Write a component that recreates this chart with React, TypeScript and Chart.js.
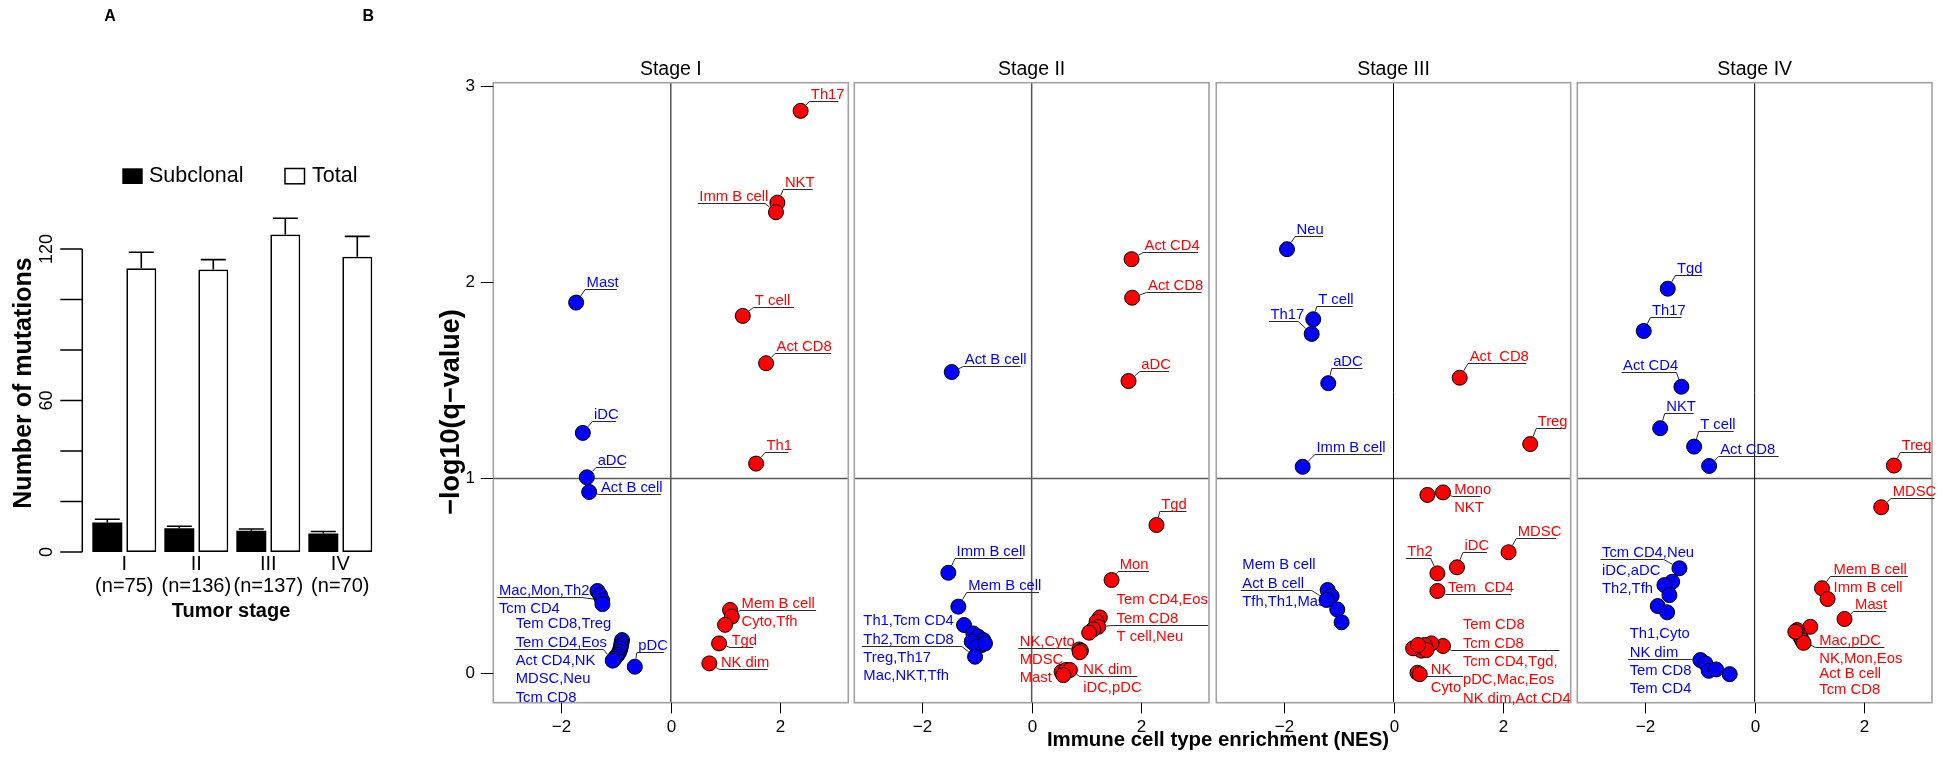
import { useEffect, useRef } from 'react';
import { Chart, registerables } from 'chart.js';

Chart.register(...registerables);

const W = 1952;
const H = 757;
const SANS = '"Liberation Sans", Arial, Helvetica, sans-serif';
const RED = '#FF0000';
const BLUE = '#0000FF';

// ---------------- Panel A data ----------------
const stageNames = ['I', 'II', 'III', 'IV'];
const stageCounts = ['(n=75)', '(n=136)', '(n=137)', '(n=70)'];
const subclonalMean = [11.7, 9.4, 8.4, 7.3];
const subclonalUpper = [13.0, 10.2, 9.1, 8.1];
const totalMean = [112.4, 111.9, 125.7, 116.9];
const totalUpper = [118.7, 115.8, 132.2, 125.0];
const mutationTicks = [0, 20, 40, 60, 80, 100, 120];
const mutationTickLabels = ['0', '', '', '60', '', '', '120'];

// ---------------- Panel B data ----------------
const nesTicks = [-2, 0, 2];
const nesTickLabels = ['\u22122', '0', '2'];
const qTicks = [0, 1, 2, 3];
const qTickLabels = ['0', '1', '2', '3'];

const stage1Cells = ['Th17', 'NKT', 'Imm B cell', 'T cell', 'Act CD8', 'Th1', 'Mem B cell', 'Cyto', 'Tfh', 'Tgd', 'NK dim',
  'Mast', 'iDC', 'aDC', 'Act B cell', 'Mac', 'Mon', 'Th2', 'Tcm CD4', 'Tem CD8', 'Treg', 'Tem CD4', 'Eos', 'Act CD4', 'NK', 'MDSC', 'Neu', 'Tcm CD8', 'pDC'];
const stage1NES = [2.37, 1.945, 1.92, 1.314, 1.739, 1.557, 1.082, 1.113, 0.99, 0.881, 0.704,
  -1.728, -1.606, -1.533, -1.49, -1.339, -1.29, -1.253, -1.248, -0.89, -0.90, -0.91, -0.92, -0.94, -0.97, -1.0, -1.03, -1.06, -0.657];
const stage1LogQ = [2.875, 2.406, 2.357, 1.827, 1.585, 1.072, 0.324, 0.29, 0.248, 0.153, 0.051,
  1.895, 1.229, 1.002, 0.927, 0.421, 0.4, 0.374, 0.354, 0.17, 0.155, 0.14, 0.125, 0.11, 0.095, 0.085, 0.075, 0.065, 0.034];

const stage2Cells = ['Act CD4', 'Act CD8', 'aDC', 'Tgd', 'Mon', 'Tem CD4', 'Eos', 'Tem CD8', 'T cell', 'Neu', 'NK', 'Cyto', 'MDSC', 'Mast', 'NK dim', 'iDC', 'pDC',
  'Act B cell', 'Imm B cell', 'Mem B cell', 'Th1', 'Tcm CD4', 'Th2', 'Tcm CD8', 'Treg', 'Th17', 'Mac', 'NKT', 'Tfh'];
const stage2NES = [1.825, 1.836, 1.77, 2.281, 1.46, 1.246, 1.186, 1.215, 1.124, 1.051, 0.87, 0.9, 0.88, 0.547, 0.626, 0.699, 0.577,
  -1.46, -1.522, -1.339, -1.235, -1.065, -0.974, -0.883, -1.095, -0.912, -1.004, -1.034, -0.852];
const stage2LogQ = [2.117, 1.92, 1.494, 0.758, 0.477, 0.286, 0.264, 0.238, 0.225, 0.208, 0.122, 0.116, 0.108, 0.008, 0.017, 0.017, -0.009,
  1.54, 0.514, 0.341, 0.247, 0.204, 0.187, 0.17, 0.162, 0.145, 0.136, 0.085, 0.153];

const stage3Cells = ['Neu', 'T cell', 'Th17', 'aDC', 'Imm B cell', 'Mem B cell', 'Act B cell', 'Tfh', 'Th1', 'Mast',
  'Act CD8', 'Treg', 'Mono', 'NKT', 'MDSC', 'iDC', 'Th2', 'Tem CD4', 'Tem CD8', 'Tcm CD8', 'Tcm CD4', 'Tgd', 'pDC', 'Mac', 'Eos', 'NK dim', 'Act CD4', 'NK', 'Cyto'];
const stage3NES = [-1.947, -1.467, -1.496, -1.193, -1.661, -1.204, -1.131, -1.223, -1.029, -0.949,
  1.21, 2.5, 0.62, 0.905, 2.104, 1.161, 0.803, 0.803, 0.905, 0.693, 0.571, 0.48, 0.42, 0.511, 0.602, 0.358, 0.449, 0.438, 0.48];
const stage3LogQ = [2.168, 1.81, 1.735, 1.483, 1.056, 0.426, 0.395, 0.375, 0.327, 0.261,
  1.511, 1.172, 0.912, 0.925, 0.619, 0.542, 0.511, 0.421, 0.14, 0.153, 0.145, 0.136, 0.128, 0.116, 0.119, 0.128, 0.145, 0.003, -0.004];

const stage4Cells = ['Tgd', 'Th17', 'Act CD4', 'NKT', 'T cell', 'Act CD8', 'Tcm CD4', 'Neu', 'iDC', 'aDC', 'Th2', 'Tfh', 'Th1', 'Cyto', 'NK dim', 'Tem CD8', 'Tem CD4',
  'Treg', 'MDSC', 'Mem B cell', 'Imm B cell', 'Mast', 'Mac', 'pDC', 'NK', 'Mon', 'Eos', 'Act B cell', 'Tcm CD8'];
const stage4NES = [-1.588, -2.026, -1.338, -1.726, -1.106, -0.832, -1.374, -1.507, -1.648, -1.557, -1.77, -1.599, -0.991, -0.9, -0.839, -0.704, -0.456,
  2.544, 2.312, 1.23, 1.332, 1.642, 1.016, 0.774, 0.803, 0.834, 0.865, 0.894, 0.743];
const stage4LogQ = [1.966, 1.75, 1.465, 1.253, 1.159, 1.06, 0.537, 0.468, 0.451, 0.4, 0.344, 0.312, 0.068, 0.051, 0.013, 0.02, -0.004,
  1.062, 0.849, 0.435, 0.38, 0.278, 0.238, 0.221, 0.204, 0.187, 0.17, 0.156, 0.213];

// Callout labels (anchor of the underline in data units, target = index of point)
type Callout = { lines: string[]; above: number; x0: number; x1: number; y: number; target: number; tx?: number; ls?: number };

const stage1Callouts: Callout[] = [
  { lines: ['Th17'], above: 1, x0: 2.529, x1: 3.058, y: 2.927, target: 0 },
  { lines: ['NKT'], above: 1, x0: 2.055, x1: 2.591, y: 2.474, target: 1 },
  { lines: ['Imm B cell'], above: 1, x0: 0.493, x1: 1.721, y: 2.403, target: 2 },
  { lines: ['T cell'], above: 1, x0: 1.507, x1: 2.25, y: 1.871, target: 3 },
  { lines: ['Act CD8'], above: 1, x0: 1.903, x1: 2.925, y: 1.639, target: 4 },
  { lines: ['Th1'], above: 1, x0: 1.721, x1: 2.146, y: 1.133, target: 5 },
  { lines: ['Mast'], above: 1, x0: -1.564, x1: -0.985, y: 1.963, target: 11 },
  { lines: ['iDC'], above: 1, x0: -1.431, x1: -0.998, y: 1.291, target: 12 },
  { lines: ['aDC'], above: 1, x0: -1.363, x1: -0.828, y: 1.053, target: 13 },
  { lines: ['Act B cell'], above: 1, x0: -1.303, x1: -0.182, y: 0.917, target: 14 },
  { lines: ['Mac,Mon,Th2', 'Tcm CD4'], above: 1, x0: -3.164, x1: -1.624, y: 0.392, target: 17 },
  { lines: ['Tem CD8,Treg', 'Tem CD4,Eos', 'Act CD4,NK', 'MDSC,Neu', 'Tcm CD8'], above: 2, x0: -2.859, x1: -1.23, y: 0.124, target: 27 },
  { lines: ['pDC'], above: 1, x0: -0.62, x1: -0.122, y: 0.11, target: 28 },
  { lines: ['Mem B cell', 'Cyto,Tfh'], above: 1, x0: 1.265, x1: 2.652, y: 0.324, target: 7 },
  { lines: ['Tgd'], above: 1, x0: 1.082, x1: 1.507, y: 0.136, target: 9 },
  { lines: ['NK dim'], above: 1, x0: 0.887, x1: 1.77, y: 0.02, target: 10 },
];

const stage2Callouts: Callout[] = [
  { lines: ['Act CD4'], above: 1, x0: 2.036, x1: 3.04, y: 2.155, target: 0 },
  { lines: ['Act CD8'], above: 1, x0: 2.099, x1: 3.102, y: 1.951, target: 1 },
  { lines: ['aDC'], above: 1, x0: 1.976, x1: 2.511, y: 1.547, target: 2 },
  { lines: ['Tgd'], above: 1, x0: 2.341, x1: 2.828, y: 0.831, target: 3 },
  { lines: ['Mon'], above: 1, x0: 1.58, x1: 2.141, y: 0.525, target: 4 },
  { lines: ['Tem CD4,Eos', 'Tem CD8', 'T cell,Neu'], above: 2, x0: 1.489, x1: 3.223, y: 0.247, target: 7, tx: 1.551 },
  { lines: ['NK,Cyto', 'MDSC', 'Mast'], above: 1, x0: -0.245, x1: 0.668, y: 0.128, target: 10 },
  { lines: ['NK dim', 'iDC,pDC'], above: 1, x0: 0.881, x1: 1.927, y: -0.014, target: 15, tx: 0.942 },
  { lines: ['Act B cell'], above: 1, x0: -1.248, x1: -0.201, y: 1.573, target: 17 },
  { lines: ['Imm B cell'], above: 1, x0: -1.4, x1: -0.153, y: 0.588, target: 18 },
  { lines: ['Mem B cell'], above: 1, x0: -1.186, x1: 0.133, y: 0.417, target: 19 },
  { lines: ['Th1,Tcm CD4', 'Th2,Tcm CD8', 'Treg,Th17', 'Mac,NKT,Tfh'], above: 2, x0: -3.102, x1: -1.277, y: 0.14, target: 27 },
];

const stage3Callouts: Callout[] = [
  { lines: ['Neu'], above: 1, x0: -1.801, x1: -1.285, y: 2.236, target: 0 },
  { lines: ['T cell'], above: 1, x0: -1.405, x1: -0.748, y: 1.879, target: 1 },
  { lines: ['Th17'], above: 1, x0: -2.276, x1: -1.741, y: 1.803, target: 2 },
  { lines: ['aDC'], above: 1, x0: -1.131, x1: -0.566, y: 1.559, target: 3 },
  { lines: ['Imm B cell'], above: 1, x0: -1.436, x1: -0.208, y: 1.12, target: 4 },
  { lines: ['Mem B cell', 'Act B cell', 'Tfh,Th1,Mast'], above: 2, x0: -2.792, x1: -1.496, y: 0.426, target: 7 },
  { lines: ['Act  CD8'], above: 1, x0: 1.361, x1: 2.427, y: 1.585, target: 10, tx: 1.392 },
  { lines: ['Treg'], above: 1, x0: 2.609, x1: 3.144, y: 1.253, target: 11 },
  { lines: ['Mono', 'NKT'], above: 1, x0: 1.082, x1: 1.593, y: 0.906, target: 13 },
  { lines: ['MDSC'], above: 1, x0: 2.245, x1: 2.974, y: 0.693, target: 14 },
  { lines: ['iDC'], above: 1, x0: 1.27, x1: 1.708, y: 0.619, target: 15 },
  { lines: ['Th2'], above: 1, x0: 0.224, x1: 0.681, y: 0.588, target: 16 },
  { lines: ['Tem  CD4'], above: 1, x0: 0.949, x1: 2.153, y: 0.405, target: 17, tx: 0.996 },
  { lines: ['Tem CD8', 'Tcm CD8', 'Tcm CD4,Tgd,', 'pDC,Mac,Eos', 'NK dim,Act CD4'], above: 2, x0: 1.058, x1: 3.035, y: 0.119, target: 18, tx: 1.27 },
  { lines: ['NK', 'Cyto'], above: 1, x0: 0.602, x1: 1.27, y: -0.014, target: 28, tx: 0.681 },
];

const stage4Callouts: Callout[] = [
  { lines: ['Tgd'], above: 1, x0: -1.447, x1: -0.96, y: 2.036, target: 0 },
  { lines: ['Th17'], above: 1, x0: -1.903, x1: -1.338, y: 1.823, target: 1 },
  { lines: ['Act CD4'], above: 1, x0: -2.432, x1: -1.429, y: 1.539, target: 2 },
  { lines: ['NKT'], above: 1, x0: -1.642, x1: -1.113, y: 1.332, target: 3 },
  { lines: ['T cell'], above: 1, x0: -1.022, x1: -0.383, y: 1.24, target: 4 },
  { lines: ['Act CD8'], above: 1, x0: -0.657, x1: 0.438, y: 1.112, target: 5 },
  { lines: ['Tcm CD4,Neu', 'iDC,aDC', 'Th2,Tfh'], above: 1, x0: -2.816, x1: -1.661, y: 0.584, target: 6 },
  { lines: ['Th1,Cyto', 'NK dim', 'Tem CD8', 'Tem CD4'], above: 2, x0: -2.31, x1: -1.173, y: 0.072, target: 12 },
  { lines: ['Treg'], above: 1, x0: 2.659, x1: 3.224, y: 1.133, target: 17 },
  { lines: ['MDSC'], above: 1, x0: 2.494, x1: 3.285, y: 0.898, target: 18 },
  { lines: ['Mem B cell', 'Imm B cell'], above: 1, x0: 1.381, x1: 2.799, y: 0.497, target: 19, tx: 1.442 },
  { lines: ['Mast'], above: 1, x0: 1.807, x1: 2.403, y: 0.32, target: 21 },
  { lines: ['Mac,pDC', 'NK,Mon,Eos', 'Act B cell', 'Tcm CD8'], above: 1, x0: 1.108, x1: 2.372, y: 0.133, target: 26, tx: 1.181, ls: 15.5 },
];

type Panel = {
  title: string; left: number; right: number; cells: string[]; nes: number[]; logq: number[];
  callouts: Callout[]; zeroColor: string; zeroWidth: number; first: boolean;
};

const BOX_TOP = 82.7;
const BOX_BOTTOM = 702.7;

const panels: Panel[] = [
  { title: 'Stage I', left: 493.3, right: 848.3, cells: stage1Cells, nes: stage1NES, logq: stage1LogQ, callouts: stage1Callouts, zeroColor: '#555', zeroWidth: 1.5, first: true },
  { title: 'Stage II', left: 854.3, right: 1209, cells: stage2Cells, nes: stage2NES, logq: stage2LogQ, callouts: stage2Callouts, zeroColor: '#555', zeroWidth: 1.5, first: false },
  { title: 'Stage III', left: 1216.3, right: 1570.7, cells: stage3Cells, nes: stage3NES, logq: stage3LogQ, callouts: stage3Callouts, zeroColor: '#000', zeroWidth: 1, first: false },
  { title: 'Stage IV', left: 1577.3, right: 1932, cells: stage4Cells, nes: stage4NES, logq: stage4LogQ, callouts: stage4Callouts, zeroColor: '#000', zeroWidth: 1, first: false },
];

const snap = (v: number) => Math.round(v) + 0.5;

function drawCallouts(chart: any, p: Panel) {
  const { ctx } = chart;
  const x = chart.scales.x;
  const y = chart.scales.y;
  ctx.font = `14.8px ${SANS}`;
  ctx.textAlign = 'left';
  ctx.textBaseline = 'alphabetic';
  for (const c of p.callouts) {
    const ul = snap(y.getPixelForValue(c.y));
    const xa = x.getPixelForValue(c.x0);
    const xb = x.getPixelForValue(c.x1);
    const px = x.getPixelForValue(p.nes[c.target]);
    const py = y.getPixelForValue(p.logq[c.target]);
    const ex = Math.abs(px - xa) <= Math.abs(px - xb) ? xa : xb;
    ctx.strokeStyle = '#2a2a2a';
    ctx.lineWidth = 1;
    ctx.beginPath();
    ctx.moveTo(xa, ul);
    ctx.lineTo(xb, ul);
    const dx = px - ex;
    const dy = py - ul;
    const d = Math.hypot(dx, dy);
    if (d > 9) {
      ctx.moveTo(ex, ul);
      ctx.lineTo(ex + (dx * (d - 8)) / d, ul + (dy * (d - 8)) / d);
    }
    ctx.stroke();
    ctx.fillStyle = p.nes[c.target] > 0 ? RED : BLUE;
    const tx = c.tx !== undefined ? x.getPixelForValue(c.tx) : xa + 1.5;
    const ls = c.ls ?? 18.6;
    c.lines.forEach((line, k) => {
      const by = k < c.above ? ul - 3 - (c.above - 1 - k) * ls : ul + 15.3 + (k - c.above) * ls;
      ctx.fillText(line, tx, by);
    });
  }
}

function makePanelPlugin(p: Panel) {
  return {
    id: 'deco' + p.title.replace(/\s/g, ''),
    beforeDatasetsDraw(chart: any) {
      const { ctx, chartArea: a } = chart;
      const x = chart.scales.x;
      const y = chart.scales.y;
      ctx.save();
      // reference lines
      const zx = x.getPixelForValue(0);
      const y1 = snap(y.getPixelForValue(1));
      ctx.strokeStyle = '#5a5a5a';
      ctx.lineWidth = 1.5;
      ctx.beginPath();
      ctx.moveTo(a.left, y1);
      ctx.lineTo(a.right, y1);
      ctx.stroke();
      ctx.strokeStyle = p.zeroColor;
      ctx.lineWidth = p.zeroWidth;
      ctx.beginPath();
      ctx.moveTo(zx, a.top);
      ctx.lineTo(zx, a.bottom);
      ctx.stroke();
      // box
      ctx.strokeStyle = '#a3a3a3';
      ctx.lineWidth = 1.6;
      ctx.strokeRect(a.left, a.top, a.right - a.left, a.bottom - a.top);
      // x ticks
      ctx.strokeStyle = '#000';
      ctx.lineWidth = 1;
      ctx.fillStyle = '#000';
      ctx.font = `17px ${SANS}`;
      ctx.textAlign = 'center';
      ctx.textBaseline = 'middle';
      nesTicks.forEach((v, i) => {
        const px = snap(x.getPixelForValue(v));
        ctx.beginPath();
        ctx.moveTo(px, a.bottom);
        ctx.lineTo(px, a.bottom + 10.7);
        ctx.stroke();
        ctx.fillText(nesTickLabels[i], px, a.bottom + 24.5);
      });
      if (p.first) {
        qTicks.forEach((v, i) => {
          const py = snap(y.getPixelForValue(v));
          ctx.beginPath();
          ctx.moveTo(a.left - 12.6, py);
          ctx.lineTo(a.left, py);
          ctx.stroke();
          ctx.fillText(qTickLabels[i], a.left - 23, py);
        });
        ctx.save();
        ctx.translate(452, 412);
        ctx.rotate(-Math.PI / 2);
        ctx.font = `bold 27px ${SANS}`;
        ctx.fillText('\u2212log10(q\u2212value)', 0, 0);
        ctx.restore();
        ctx.font = `bold 16px ${SANS}`;
        ctx.fillText('B', 368.3, 16.4);
        ctx.font = `bold 20.4px ${SANS}`;
        ctx.fillText('Immune cell type enrichment (NES)', 1218, 740);
      }
      // title
      ctx.font = `19.5px ${SANS}`;
      ctx.fillStyle = '#000';
      ctx.textBaseline = 'middle';
      ctx.fillText(p.title, (a.left + a.right) / 2, 69.5);
      drawCallouts(chart, p);
      ctx.restore();
    },
  };
}

function panelConfig(p: Panel): any {
  const pts = p.nes.map((v, i) => ({ x: v, y: p.logq[i] }));
  const common = { pointRadius: 7.5, pointHoverRadius: 7.5, pointBorderWidth: 1, pointBorderColor: '#000', showLine: false };
  return {
    type: 'scatter',
    data: {
      datasets: [
        { ...common, label: 'Enriched', data: pts.filter((d) => d.x > 0), pointBackgroundColor: RED, backgroundColor: RED, borderColor: '#000' },
        { ...common, label: 'Depleted', data: pts.filter((d) => d.x < 0), pointBackgroundColor: BLUE, backgroundColor: BLUE, borderColor: '#000' },
      ],
    },
    options: {
      responsive: false,
      animation: false,
      devicePixelRatio: 1,
      events: [],
      layout: { padding: { left: p.left, right: W - p.right, top: BOX_TOP, bottom: H - BOX_BOTTOM } },
      scales: {
        x: { type: 'linear', display: false, min: -3.24, max: 3.24 },
        y: { type: 'linear', display: false, min: -0.15, max: 3.019 },
      },
      plugins: { legend: { display: false }, tooltip: { enabled: false }, title: { display: false } },
    },
    plugins: [makePanelPlugin(p)],
  };
}

// ---------------- Panel A ----------------
const A_ZERO = 552;
const A_PER_UNIT = 2.525;
const A_AXIS_X = 82.3;

const panelAPlugin = {
  id: 'panelADeco',
  afterDatasetsDraw(chart: any) {
    const { ctx } = chart;
    const x = chart.scales.x;
    const y = chart.scales.y;
    ctx.save();
    // error bars
    ctx.strokeStyle = '#000';
    ctx.lineWidth = 1.6;
    const means = [subclonalMean, totalMean];
    const uppers = [subclonalUpper, totalUpper];
    for (let d = 0; d < 2; d++) {
      const meta = chart.getDatasetMeta(d);
      meta.data.forEach((bar: any, i: number) => {
        const bx = bar.x;
        const yt = y.getPixelForValue(means[d][i]);
        const ye = y.getPixelForValue(uppers[d][i]);
        ctx.beginPath();
        ctx.moveTo(bx, yt);
        ctx.lineTo(bx, ye);
        ctx.moveTo(bx - 12.5, ye);
        ctx.lineTo(bx + 12.5, ye);
        ctx.stroke();
      });
    }
    // y axis
    ctx.lineWidth = 1.5;
    ctx.beginPath();
    ctx.moveTo(A_AXIS_X, y.getPixelForValue(0));
    ctx.lineTo(A_AXIS_X, y.getPixelForValue(120));
    mutationTicks.forEach((v) => {
      const py = y.getPixelForValue(v);
      ctx.moveTo(A_AXIS_X - 22, py);
      ctx.lineTo(A_AXIS_X, py);
    });
    ctx.stroke();
    ctx.fillStyle = '#000';
    ctx.font = `18px ${SANS}`;
    ctx.textAlign = 'center';
    ctx.textBaseline = 'middle';
    mutationTicks.forEach((v, i) => {
      if (!mutationTickLabels[i]) return;
      ctx.save();
      ctx.translate(47, y.getPixelForValue(v));
      ctx.rotate(-Math.PI / 2);
      ctx.fillText(mutationTickLabels[i], 0, 0);
      ctx.restore();
    });
    // category labels
    ctx.font = `20px ${SANS}`;
    stageNames.forEach((s, i) => {
      const cx = x.getPixelForValue(i);
      ctx.fillText(s, cx, 564);
      ctx.fillText(stageCounts[i], cx, 586.5);
    });
    ctx.font = `bold 20px ${SANS}`;
    ctx.fillText('Tumor stage', 231, 611);
    ctx.save();
    ctx.translate(24, 383);
    ctx.rotate(-Math.PI / 2);
    ctx.font = `bold 25px ${SANS}`;
    ctx.fillText('Number of mutations', 0, 0);
    ctx.restore();
    // legend
    const ds = chart.data.datasets;
    ctx.lineWidth = 1.5;
    ctx.fillStyle = ds[0].backgroundColor;
    ctx.fillRect(122.3, 168.3, 20.4, 15.7);
    ctx.fillStyle = '#fff';
    ctx.fillRect(285, 168.5, 19.5, 15.3);
    ctx.strokeStyle = '#000';
    ctx.strokeRect(285, 168.5, 19.5, 15.3);
    ctx.fillStyle = '#000';
    ctx.font = `21.5px ${SANS}`;
    ctx.textAlign = 'left';
    ctx.fillText(ds[0].label, 149, 176.5);
    ctx.fillText(ds[1].label, 312, 176.5);
    // panel letter
    ctx.textAlign = 'center';
    ctx.font = `bold 16px ${SANS}`;
    ctx.fillText('A', 110, 16.4);
    ctx.restore();
  },
};

function panelAConfig(): any {
  const yMax = 140;
  return {
    type: 'bar',
    data: {
      labels: stageNames,
      datasets: [
        { label: 'Subclonal', data: subclonalMean, backgroundColor: '#000', borderColor: '#000', borderWidth: 0, categoryPercentage: 0.944, barPercentage: 0.882 },
        { label: 'Total', data: totalMean, backgroundColor: '#fff', borderColor: '#000', borderWidth: 1.7, borderSkipped: false, categoryPercentage: 0.944, barPercentage: 0.882 },
      ],
    },
    options: {
      responsive: false,
      animation: false,
      devicePixelRatio: 1,
      events: [],
      layout: { padding: { left: 88.3, right: W - 376.3, top: A_ZERO - yMax * A_PER_UNIT, bottom: H - A_ZERO } },
      scales: {
        x: { type: 'category', display: false },
        y: { type: 'linear', display: false, min: 0, max: yMax },
      },
      plugins: { legend: { display: false }, tooltip: { enabled: false }, title: { display: false } },
    },
    plugins: [panelAPlugin],
  };
}

export default function App() {
  const aRef = useRef<HTMLCanvasElement | null>(null);
  const pRefs = useRef<(HTMLCanvasElement | null)[]>([]);

  useEffect(() => {
    const charts: Chart[] = [];
    if (aRef.current) charts.push(new Chart(aRef.current, panelAConfig()));
    panels.forEach((p, i) => {
      const c = pRefs.current[i];
      if (c) charts.push(new Chart(c, panelConfig(p)));
    });
    return () => charts.forEach((c) => c.destroy());
  }, []);

  const cs: any = { position: 'absolute', left: 0, top: 0, width: W, height: H };
  return (
    <div style={{ position: 'absolute', left: 0, top: 0, width: W, height: H, background: '#fff', overflow: 'hidden' }}>
      <canvas ref={aRef} width={W} height={H} style={cs} />
      {panels.map((p, i) => (
        <canvas key={p.title} ref={(el) => { pRefs.current[i] = el; }} width={W} height={H} style={cs} />
      ))}
    </div>
  );
}
